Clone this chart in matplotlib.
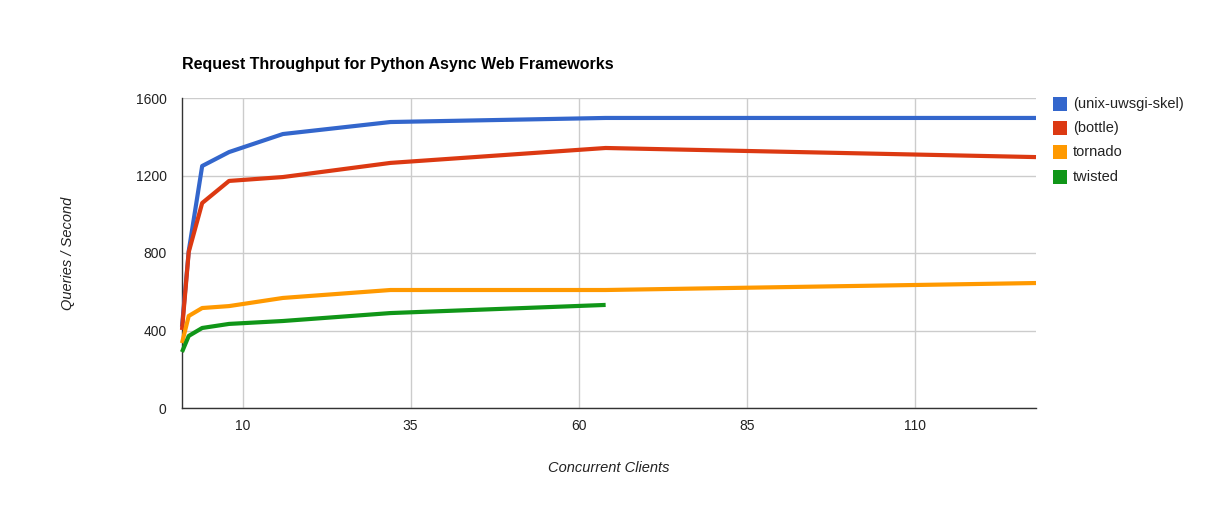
import matplotlib
matplotlib.use("Agg")
import matplotlib.pyplot as plt
from matplotlib.patches import Rectangle

plt.rcParams['font.family'] = ['Liberation Sans', 'DejaVu Sans']

clients = [1, 2, 4, 8, 16, 32, 64, 128]
uwsgi = [420, 810, 1249, 1321, 1414, 1476, 1497, 1497]
bottle = [403, 805, 1058, 1172, 1192, 1265, 1342, 1295]
tornado = [335, 475, 516, 526, 568, 609, 609, 645]
twisted_x = [1, 2, 4, 8, 16, 32, 64]
twisted = [289, 372, 413, 434, 449, 490, 532]

series = [
    ("(unix-uwsgi-skel)", clients, uwsgi, "#3366cc"),
    ("(bottle)", clients, bottle, "#dc3912"),
    ("tornado", clients, tornado, "#ff9900"),
    ("twisted", twisted_x, twisted, "#109618"),
]
xticks = [10, 35, 60, 85, 110]
yticks = [0, 400, 800, 1200, 1600]

fig = plt.figure(figsize=(12.18, 5.05), dpi=100)
ax = fig.add_axes([182/1218, 97/505, (1036-182)/1218, (408-98)/505])

for name, xs, ys, c in series:
    ax.plot(xs, ys, color=c, lw=3, solid_joinstyle='round', solid_capstyle='butt', zorder=3, clip_on=False)

ax.set_xlim(1, 128)
ax.set_ylim(0, 1600)
ax.set_xticks(xticks)
ax.set_yticks(yticks)
ax.grid(True, color='#cccccc', lw=1)
ax.set_axisbelow(True)
for s in ['top', 'right']:
    ax.spines[s].set_visible(False)
for s in ['left', 'bottom']:
    ax.spines[s].set_color('#333333')
    ax.spines[s].set_linewidth(1)
ax.tick_params(length=0, labelsize=10, colors='#222222', pad=8)
ax.tick_params(axis='y', pad=11)

fig.text(182/1218, 1-65/505, "Request Throughput for Python Async Web Frameworks",
         fontsize=11.5, fontweight='bold', ha='left', va='center', color='black')
fig.text(68/1218, 1-253/505, "Queries / Second", rotation=90, style='italic',
         fontsize=10.5, ha='center', va='center', color='#222222')
fig.text(609/1218, 1-468/505, "Concurrent Clients", style='italic',
         fontsize=10.5, ha='center', va='center', color='#222222')

rows = [104, 128, 152, 177]
for (name, xs, ys, c), yp in zip(series, rows):
    fig.patches.append(Rectangle((1053/1218, 1-(yp+7)/505), 14/1218, 14/505,
                                 transform=fig.transFigure, facecolor=c, edgecolor='none'))
    fig.text(1073/1218, 1-yp/505, name, fontsize=10.5, ha='left', va='center', color='#222222')

fig.savefig("out.png", dpi=100, facecolor='white')
